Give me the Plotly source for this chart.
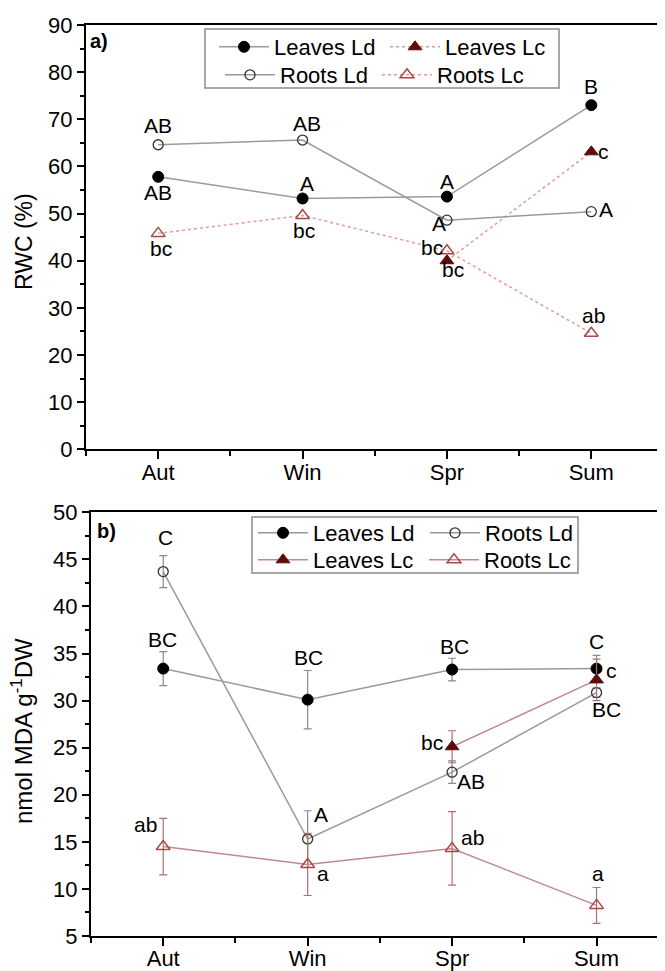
import plotly.graph_objects as go

# ---------------- data ----------------
seasons = ["Aut", "Win", "Spr", "Sum"]
xpos = [0, 1, 2, 3]

# Panel a: RWC (%)
rwc_leaves_ld = [57.8, 53.2, 53.6, 73.0]
rwc_leaves_lc = [None, None, 40.0, 63.1]
rwc_roots_ld = [64.6, 65.6, 48.6, 50.4]
rwc_roots_lc = [45.8, 49.6, 42.1, 24.6]

# Panel b: nmol MDA g-1 DW
mda_leaves_ld = [33.4, 30.1, 33.3, 33.4]
mda_leaves_ld_err = [1.8, 3.1, 1.2, 1.4]
mda_roots_ld = [43.7, 15.3, 22.4, 30.85]
mda_roots_ld_err = [1.7, 3.0, 1.2, 0.5]
mda_leaves_lc = [None, None, 25.1, 32.2]
mda_leaves_lc_err = [0, 0, 1.7, 2.2]
mda_roots_lc = [14.5, 12.6, 14.3, 8.25]
mda_roots_lc_err = [3.0, 3.3, 3.9, 1.9]

# significance letters: (series, x index, text, xshift, yshift)
letters_a = [
    ("roots_ld", 0, "AB", 0, 19), ("leaves_ld", 0, "AB", 0, -16),
    ("roots_ld", 1, "AB", 4, 17), ("leaves_ld", 1, "A", 4, 15),
    ("leaves_ld", 2, "A", 0, 15), ("leaves_ld", 3, "B", 0, 19),
    ("leaves_lc", 3, "c", 12, 0), ("roots_ld", 3, "A", 15, 2),
    ("roots_ld", 2, "A", -8, -3), ("roots_lc", 2, "bc", -15, 3),
    ("leaves_lc", 2, "bc", 6, -9), ("roots_lc", 0, "bc", 3, -15),
    ("roots_lc", 1, "bc", 1, -15), ("roots_lc", 3, "ab", 2, 18),
]
letters_b = [
    ("roots_ld", 0, "C", 2, 34), ("leaves_ld", 0, "BC", -1, 29),
    ("leaves_ld", 1, "BC", 1, 42), ("leaves_ld", 2, "BC", 2, 23),
    ("leaves_ld", 3, "C", 0, 27), ("leaves_ld", 3, "c", 15, -2),
    ("roots_ld", 3, "BC", 10, -17), ("leaves_lc", 2, "bc", -20, 4),
    ("roots_ld", 2, "AB", 19, -9), ("roots_ld", 1, "A", 13, 25),
    ("roots_lc", 1, "a", 15, -9), ("roots_lc", 0, "ab", -18, 22),
    ("roots_lc", 2, "ab", 20, 11), ("roots_lc", 3, "a", 1, 32),
]

# ---------------- geometry (page has an 8px body margin) ----------------
OX, OY = 8, 8
W, H = 665 - OX, 971 - OY

def px(x):
    return (x - OX) / W

def py(y):
    return 1 - (y - OY) / H

# ---------------- styles ----------------
FONT = "Liberation Sans, Arial, sans-serif"
GRAY = "#9a9a9a"
ROSE_DOT = "#e29a9a"
ROSE = "#c08a8a"
MAROON = "#5e0b0b"
TRI_EDGE = "#a84a4a"

fig = go.Figure()

def add(x, y, name, xa, ya, legend, line, marker, err=None, errcolor=None):
    kw = {}
    if err is not None:
        kw["error_y"] = dict(type="data", array=err, visible=True,
                             color=errcolor, thickness=1.2, width=4)
    fig.add_trace(go.Scatter(x=x, y=y, name=name, mode="lines+markers",
                             xaxis=xa, yaxis=ya, legend=legend,
                             line=line, marker=marker, connectgaps=False, **kw))

m_fc = dict(symbol="circle", size=11, color="black", line=dict(color="black", width=1))
m_oc = dict(symbol="circle-open", size=10, color="#333333", line=dict(width=1.3))
m_ft = dict(symbol="triangle-up", size=12, color=MAROON, line=dict(color=MAROON, width=1))
m_ot = dict(symbol="triangle-up-open", size=12, color=TRI_EDGE, line=dict(width=1.5))

# Panel a traces
add(xpos, rwc_leaves_ld, "Leaves Ld", "x", "y", "legend", dict(color=GRAY, width=1.5), m_fc)
add(xpos, rwc_leaves_lc, "Leaves Lc", "x", "y", "legend", dict(color=ROSE_DOT, width=1.5, dash="dot"), m_ft)
add(xpos, rwc_roots_ld, "Roots Ld", "x", "y", "legend2", dict(color=GRAY, width=1.5), m_oc)
add(xpos, rwc_roots_lc, "Roots Lc", "x", "y", "legend2", dict(color=ROSE_DOT, width=1.5, dash="dot"), m_ot)

# Panel b traces
add(xpos, mda_leaves_ld, "Leaves Ld", "x2", "y2", "legend3", dict(color=GRAY, width=1.5), m_fc,
    mda_leaves_ld_err, "#8a8a8a")
add(xpos, mda_roots_ld, "Roots Ld", "x2", "y2", "legend3", dict(color=GRAY, width=1.5), m_oc,
    mda_roots_ld_err, "#8a8a8a")
add(xpos, mda_leaves_lc, "Leaves Lc", "x2", "y2", "legend4", dict(color=ROSE, width=1.5), m_ft,
    mda_leaves_lc_err, "#b07070")
add(xpos, mda_roots_lc, "Roots Lc", "x2", "y2", "legend4", dict(color=ROSE, width=1.5), m_ot,
    mda_roots_lc_err, "#b07070")

series_a = {"leaves_ld": rwc_leaves_ld, "leaves_lc": rwc_leaves_lc,
            "roots_ld": rwc_roots_ld, "roots_lc": rwc_roots_lc}
series_b = {"leaves_ld": mda_leaves_ld, "leaves_lc": mda_leaves_lc,
            "roots_ld": mda_roots_ld, "roots_lc": mda_roots_lc}

annotations = []
for (s, i, t, dx, dy) in letters_a:
    annotations.append(dict(x=xpos[i], y=series_a[s][i], xref="x", yref="y", text=t,
                            showarrow=False, xshift=dx, yshift=dy,
                            xanchor="center", yanchor="middle",
                            font=dict(family=FONT, size=21, color="black")))
for (s, i, t, dx, dy) in letters_b:
    annotations.append(dict(x=xpos[i], y=series_b[s][i], xref="x2", yref="y2", text=t,
                            showarrow=False, xshift=dx, yshift=dy,
                            xanchor="center", yanchor="middle",
                            font=dict(family=FONT, size=21, color="black")))

annotations += [
    dict(x=px(99), y=py(41), xref="paper", yref="paper", text="<b>a)</b>",
         xanchor="center", yanchor="middle", showarrow=False,
         font=dict(family=FONT, size=20, color="black")),
    dict(x=px(106), y=py(531), xref="paper", yref="paper", text="<b>b)</b>",
         xanchor="center", yanchor="middle", showarrow=False,
         font=dict(family=FONT, size=20, color="black")),
    dict(x=px(24), y=py(242), xref="paper", yref="paper", text="RWC (%)",
         xanchor="center", yanchor="middle", textangle=-90, showarrow=False,
         font=dict(family=FONT, size=23, color="black")),
    dict(x=px(22), y=py(731), xref="paper", yref="paper",
         text="nmol MDA g<sup>-1</sup>DW", xanchor="center", yanchor="middle",
         textangle=-90, showarrow=False,
         font=dict(family=FONT, size=24, color="black")),
]

# legend frames
shapes = [
    dict(type="rect", xref="paper", yref="paper", x0=px(205), x1=px(559),
         y0=py(88), y1=py(29), line=dict(color="#8c8c8c", width=1.5),
         fillcolor="white", layer="below"),
    dict(type="rect", xref="paper", yref="paper", x0=px(252), x1=px(578),
         y0=py(573), y1=py(517), line=dict(color="#8c8c8c", width=1.5),
         fillcolor="white", layer="below"),
]

def xaxis(domain, rng, anchor):
    return dict(domain=domain, range=rng, anchor=anchor, tickmode="array",
                tickvals=xpos, ticktext=seasons, ticks="outside", ticklen=8,
                tickwidth=2, tickcolor="black", showline=True, linecolor="black",
                linewidth=2, mirror=True, showgrid=False, zeroline=False,
                automargin=False, ticklabelstandoff=-6,
                tickfont=dict(family=FONT, size=22, color="black"),
                minor=dict(tickmode="linear", tick0=0.5, dtick=1, ticks="outside",
                           ticklen=5, tickwidth=2, tickcolor="black", showgrid=False))

def yaxis(domain, rng, dtick, mdtick, anchor, mirror):
    return dict(domain=domain, range=rng, anchor=anchor, dtick=dtick, tick0=0,
                ticks="outside", ticklen=7, tickwidth=2, tickcolor="black",
                showline=True, linecolor="black", linewidth=2, mirror=mirror,
                showgrid=False, zeroline=False, automargin=False,
                tickfont=dict(family=FONT, size=22, color="black"),
                minor=dict(dtick=mdtick, ticks="outside", ticklen=4, tickwidth=2,
                           tickcolor="black", showgrid=False))

def legend(xline, yc, entry):
    return dict(orientation="h", xanchor="left", yanchor="middle",
                x=px(xline - 4), y=py(yc),
                bgcolor="rgba(0,0,0,0)", borderwidth=0,
                font=dict(family=FONT, size=22, color="black"),
                entrywidth=entry, entrywidthmode="pixels", itemwidth=50,
                traceorder="normal", tracegroupgap=0)

fig.update_layout(
    width=W, height=H, margin=dict(l=0, r=0, t=0, b=0, autoexpand=False),
    paper_bgcolor="white", plot_bgcolor="white",
    xaxis=xaxis([px(86), px(663.5)], [-0.5, 3.5], "y"),
    yaxis=yaxis([py(449.3), py(25)], [0, 90], 10, 5, "x", True),
    xaxis2=xaxis([px(91), 1.0], [-0.5, 3.474], "y2"),
    yaxis2=yaxis([py(936), py(512.3)], [5, 50], 5, 2.5, "x2", False),
    legend=legend(218, 47, 106),
    legend2=legend(224, 75, 92),
    legend3=legend(257, 533, 107),
    legend4=legend(257, 560, 106),
    annotations=annotations,
    shapes=shapes,
    showlegend=True,
)

fig.write_html("out.html")
